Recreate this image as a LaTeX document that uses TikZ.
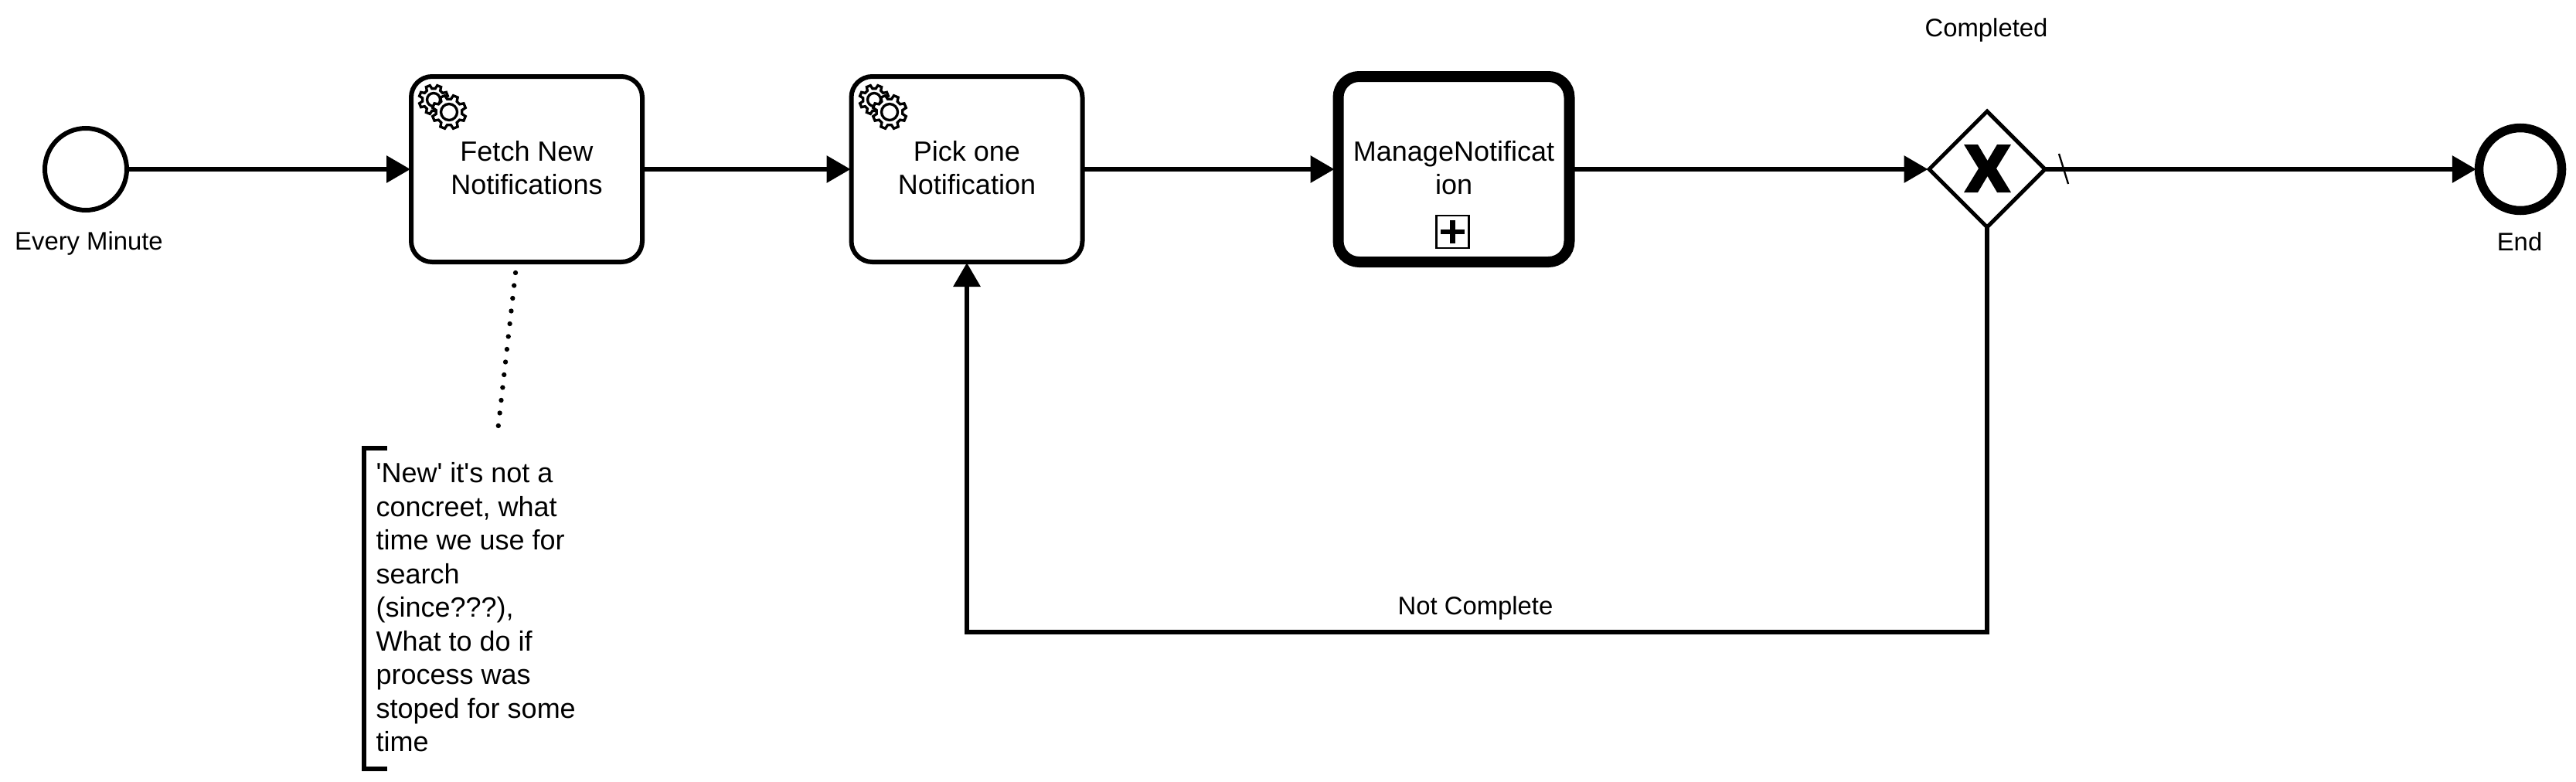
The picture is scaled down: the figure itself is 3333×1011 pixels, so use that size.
\documentclass[tikz,border=0pt]{standalone}
\usepackage{fontspec}
\setmainfont{Liberation Sans}[Ligatures=TeXOff]
\usetikzlibrary{arrows.meta,shapes.geometric}
\newcommand{\mainfs}{\fontsize{10.8pt}{12.9pt}\selectfont}
\newcommand{\labelfs}{\fontsize{9.85pt}{11.7pt}\selectfont}
\newcommand{\tasktext}[1]{\raisebox{-2.2pt}[0pt][0pt]{\parbox{85pt}{\centering #1}}}
\tikzset{
  x=0.3pt,y=-0.3pt,
  flow/.style={line width=1.85pt,shorten >=-0.6pt,shorten <=-0.6pt,-{Triangle[length=9.3pt,width=10.2pt,sep=0pt]}},
  task/.style={draw,line width=1.8pt,rounded corners=8.1pt,minimum width=89.7pt,minimum height=72pt,inner sep=0pt,align=center,font=\mainfs,fill=white},
  subproc/.style={task,line width=4.2pt},
  evt/.style={draw,circle,inner sep=0pt,fill=white},
  lbl/.style={inner sep=0pt,font=\labelfs},
  gearline/.style={draw,line width=1pt,fill=white,line join=miter},
}
\newcommand{\gearicon}[5]{%
  \begin{scope}[shift={(#1,#2)}]
    \draw[gearline] (22.5-14:#4)
      \foreach \k in {0,...,7}{
        -- (45*\k+22.5-14:#4) -- (45*\k+22.5-8:#3) -- (45*\k+22.5+8:#3) -- (45*\k+22.5+14:#4)
      } -- cycle;
    \draw[gearline] (0,0) circle (#5);
  \end{scope}}
\begin{document}
\begin{tikzpicture}
\useasboundingbox[fill=white] (0,0) rectangle (3333,1011);

% events
\node[evt,line width=1.8pt,minimum size=31.8pt] (start) at (111,219) {};
\node[evt,line width=3.45pt,minimum size=32.1pt] (stop) at (3261,219) {};

% tasks
\node[task] (t1) at (681.5,219) {\tasktext{Fetch New\\Notifications}};
\node[task] (t2) at (1251,219) {\tasktext{Pick one\\Notification}};
\node[subproc] (sp) at (1881,219) {\tasktext{ManageNotificat\\ion}};

% gateway
\node[draw,diamond,aspect=1,line width=1.5pt,minimum width=45.6pt,minimum height=45.6pt,inner sep=0pt,fill=white] (gw) at (2571,219) {};
\fill (2541,187) -- (2559,187) -- (2571.5,208) -- (2584,187) -- (2602,187) -- (2583,218) -- (2602,249) -- (2584,249) -- (2571.5,228) -- (2559,249) -- (2541,249) -- (2560,218) -- cycle;

% service task icons
\gearicon{561}{129}{19}{14.5}{8.5}
\gearicon{581}{145}{22}{17}{10.5}
\gearicon{1131}{129}{19}{14.5}{8.5}
\gearicon{1151}{145}{22}{17}{10.5}

% subprocess marker
\node[draw,line width=0.8pt,minimum size=12.6pt,inner sep=0pt,fill=white] (mk) at (1879.5,300) {};
\draw[line width=2pt] (1864,300) -- (1895,300) (1879.5,285) -- (1879.5,315);

% flows
\draw[flow] (start.east) -- (t1.west);
\draw[flow] (t1.east) -- (t2.west);
\draw[flow] (t2.east) -- (sp.west);
\draw[flow] (sp.east) -- (gw.west);
\draw[flow,shorten <=-1.2pt] (gw.east) -- (stop.west);
\coordinate (loop) at (1251,818);
\draw[flow,shorten <=-1.2pt,line join=miter] (gw.south) -- (gw.south |- loop) -- (loop) -- (t2.south);
\coordinate (df1) at (2664,199);
\coordinate (df2) at (2676,238);
\draw[line width=0.7pt] (df1) -- (df2);

% labels
\node[lbl] (l1) at (115,315) {Every Minute};
\node[lbl] (l2) at (3260,313) {End};
\node[lbl] (l3) at (2570,39) {Completed};
\node[lbl] (l4) at (1909,787) {Not Complete};

% annotation
\coordinate (b1) at (501,580);
\coordinate (b2) at (471,580);
\coordinate (b3) at (471,995);
\coordinate (b4) at (501,995);
\draw[line width=1.8pt] (b1) -- (b2) -- (b3) -- (b4);
\node[anchor=north west,inner sep=0pt,align=left,font=\mainfs\setlength{\baselineskip}{13.05pt}] (note) at (486,598) {'New' it's not a\\concreet, what\\time we use for\\search\\(since???),\\What to do if\\process was\\stoped for some\\time};
\coordinate (a1) at (667,353);
\coordinate (a2) at (643,567);
\draw[line width=1.9pt,line cap=round,dash pattern=on 0pt off 4.98pt] (a1) -- (a2);
\end{tikzpicture}
\end{document}
